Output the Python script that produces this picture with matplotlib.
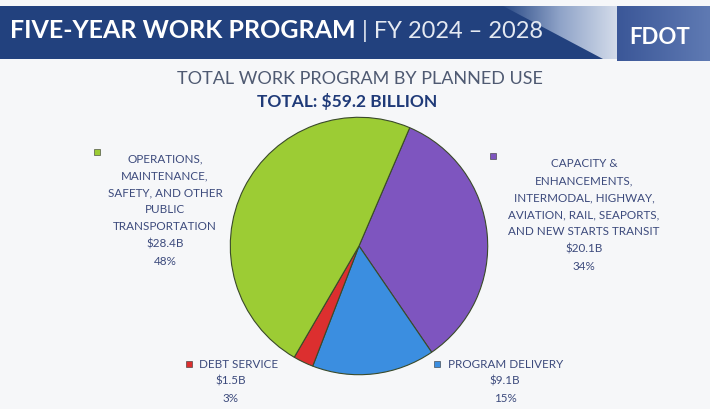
import numpy as np
import matplotlib.pyplot as plt
from matplotlib.patches import Rectangle, Polygon
from matplotlib.colors import LinearSegmentedColormap

plt.rcParams['font.family'] = ['Lato', 'DejaVu Sans']

# data
uses = ['CAPACITY &\nENHANCEMENTS,\nINTERMODAL, HIGHWAY,\nAVIATION, RAIL, SEAPORTS,\nAND NEW STARTS TRANSIT',
        'PROGRAM DELIVERY', 'DEBT SERVICE',
        'OPERATIONS,\nMAINTENANCE,\nSAFETY, AND OTHER\nPUBLIC\nTRANSPORTATION']
amounts = [20.1, 9.1, 1.5, 28.4]          # $ billions
pct_labels = ['34%', '15%', '3%', '48%']
colors = ['#7e55bf', '#3b8ee0', '#dc2f2f', '#9ccc34']
total = 59.2

W, H = 710, 410
fig = plt.figure(figsize=(W / 100, H / 100), dpi=100)
fig.patch.set_facecolor('#f6f7f9')

def fx(x):
    return x / W

def fy(y):
    return 1 - y / H

# header banner
bg = fig.add_axes([0, 0, 1, 1], zorder=0)
bg.set_xlim(0, W)
bg.set_ylim(H, 0)
bg.axis('off')
bg.add_patch(Rectangle((0, 7), 617, 53, facecolor='#22417e', edgecolor='none', zorder=1))
wedge = Polygon([[503, 7], [617, 7], [617, 60], [603, 60]], closed=True,
                facecolor='none', edgecolor='none', zorder=2)
bg.add_patch(wedge)
cmap = LinearSegmentedColormap.from_list('hdr', ['#2a4a86', '#8fa3c8', '#d3dbea'])
im = bg.imshow(np.linspace(0, 1, 200)[None, :], cmap=cmap, extent=[503, 617, 60, 7],
               aspect='auto', zorder=2)
im.set_clip_path(wedge)
cmap2 = LinearSegmentedColormap.from_list('logo', ['#3b5798', '#5f7ab3'])
bg.imshow(np.linspace(0, 1, 100)[None, :], cmap=cmap2, extent=[617, 710, 62, 7],
          aspect='auto', zorder=2)
bg.text(629, 38, 'FDOT', color='white', fontsize=16, fontweight='bold',
        ha='left', va='center', zorder=3)
bg.text(10, 31, 'FIVE-YEAR WORK PROGRAM', color='white', fontsize=18,
        fontweight='bold', ha='left', va='center', zorder=3)
bg.text(362, 31, '| FY 2024 – 2028', color='#e4e9f2', fontsize=17,
        ha='left', va='center', zorder=3)

# chart titles
bg.text(360, 79, 'TOTAL WORK PROGRAM BY PLANNED USE', color='#4f5a72',
        fontsize=13, ha='center', va='center', zorder=3)
bg.text(347, 101, f'TOTAL: ${total} BILLION', color='#1f3a78',
        fontsize=12.5, fontweight='bold', ha='center', va='center', zorder=3)

# pie
cx, cy, r = 359, 247, 130
ax = fig.add_axes([fx(cx - r), fy(cy + r), 2 * r / W, 2 * r / H], zorder=2)
ax.pie(amounts, colors=colors, startangle=66.8, counterclock=False,
       wedgeprops=dict(edgecolor='#3a4a2a', linewidth=0.8))
ax.set_xlim(-1.01, 1.01)
ax.set_ylim(-1.01, 1.01)
ax.set_aspect('auto')

# labels
lab_color = '#3c4a7c'
fs = 8.4
ls = 1.68
# side labels: (text center x, first line center y, marker x, marker y)
side_pos = {0: (584, 165, 493, 157), 3: (165, 160, 97, 153)}
for i, (tx, ty, mx, my) in side_pos.items():
    txt = f'{uses[i]}\n${amounts[i]}B\n{pct_labels[i]}'
    bg.text(tx, ty - 7, txt, color=lab_color, fontsize=fs, ha='center', va='top',
            linespacing=ls, zorder=3)
    bg.add_patch(Rectangle((mx - 3, my - 3), 6, 6, facecolor=colors[i],
                           edgecolor='#333333', linewidth=0.4, zorder=3))

# bottom labels: (first line left x, value center x, first line y, marker x)
bottom_pos = {1: (448, 505, 365, 437), 2: (199, 231, 365, 189)}
for i, (lx, vx, ty, mx) in bottom_pos.items():
    bg.text(lx, ty, uses[i], color=lab_color, fontsize=fs, ha='left', va='center', zorder=3)
    bg.text(vx, ty + 11, f'${amounts[i]}B\n{pct_labels[i]}', color=lab_color, fontsize=fs,
            ha='center', va='top', linespacing=ls, zorder=3)
    bg.add_patch(Rectangle((mx - 3, ty - 3), 6, 6, facecolor=colors[i],
                           edgecolor='#333333', linewidth=0.4, zorder=3))

fig.savefig('out.png', dpi=100, facecolor=fig.get_facecolor())
